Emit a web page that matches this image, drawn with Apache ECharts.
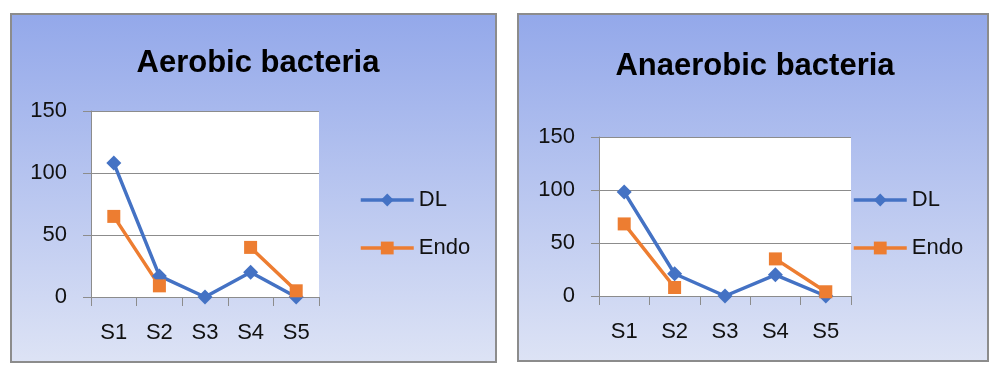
<!DOCTYPE html>
<html>
<head>
<meta charset="utf-8">
<script src="https://cdn.jsdelivr.net/npm/echarts@6/dist/echarts.min.js"></script>
<style>
    html, body { margin: 0; padding: 0; background: #fff; }
    #chart { width: 1000px; height: 377px; }
</style>
</head>
<body>
<div id="chart"></div>
<script>
'use strict';

// categories and values
var sites = ['S1', 'S2', 'S3', 'S4', 'S5'];
var aerobicDL = [108, 17, 0, 20, 0];
var aerobicEndo = [65, 9, null, 40, 5];
var anaerobicDL = [98, 21, 0, 20, 0];
var anaerobicEndo = [68, 8, null, 35, 4];
var yTicks = [0, 150, 50]; // min, max, interval

var FONT = '"Liberation Sans", Arial, sans-serif';
var BLUE = '#4472C4';
var ORANGE = '#ED7D31';

var chart = echarts.init(document.getElementById('chart'));

// panel background (gradient like the office chart style)
function panel(x, y, w, h) {
    return {
        type: 'rect',
        shape: { x: x, y: y, width: w, height: h },
        style: {
            fill: new echarts.graphic.LinearGradient(0, 0, 0, 1, [
                { offset: 0, color: '#93A8EA' },
                { offset: 1, color: '#DDE3F5' }
            ]),
            stroke: '#8C8C8C',
            lineWidth: 2
        },
        z: -10
    };
}

function xAxis(idx) {
    return {
        type: 'category',
        gridIndex: idx,
        data: sites,
        boundaryGap: true,
        axisLine: { lineStyle: { color: '#8C8C8C', width: 1 } },
        axisTick: { show: true, length: 9, interval: 0, lineStyle: { color: '#8C8C8C' } },
        axisLabel: { color: '#111', fontFamily: FONT, fontSize: 22, margin: 25, interval: 0 }
    };
}

function yAxis(idx) {
    return {
        type: 'value',
        gridIndex: idx,
        min: yTicks[0],
        max: yTicks[1],
        interval: yTicks[2],
        axisLine: { show: true, lineStyle: { color: '#8C8C8C', width: 1 } },
        axisTick: { show: true, length: 8, lineStyle: { color: '#8C8C8C' } },
        axisLabel: { color: '#111', fontFamily: FONT, fontSize: 22, margin: 24 },
        splitLine: { show: true, lineStyle: { color: '#8C8C8C', width: 1 } }
    };
}

function lineSeries(name, data, idx, color, symbol, size) {
    return {
        name: name,
        type: 'line',
        xAxisIndex: idx,
        yAxisIndex: idx,
        data: data,
        connectNulls: false,
        symbol: symbol,
        symbolSize: size,
        showAllSymbol: true,
        lineStyle: { color: color, width: 3.5 },
        itemStyle: { color: color },
        animation: false
    };
}

function legend(left, top) {
    return {
        orient: 'vertical',
        left: left,
        top: top,
        padding: 0,
        itemWidth: 53,
        itemHeight: 16,
        itemGap: 26,
        lineStyle: { width: 3.5 },
        textStyle: { fontFamily: FONT, fontSize: 22, color: '#111' },
        data: ['DL', 'Endo']
    };
}

var option = {
    backgroundColor: '#fff',
    graphic: [
        panel(11, 14, 485, 348),
        panel(518, 14, 470, 347)
    ],
    title: [
        {
            text: 'Aerobic bacteria',
            left: 253, top: 43, textAlign: 'center',
            textStyle: { fontFamily: FONT, fontSize: 31, fontWeight: 'bold', color: '#000' }
        },
        {
            text: 'Anaerobic bacteria',
            left: 750, top: 46, textAlign: 'center',
            textStyle: { fontFamily: FONT, fontSize: 31, fontWeight: 'bold', color: '#000' }
        }
    ],
    legend: [legend(359, 189), legend(852, 189)],
    grid: [
        { left: 91, top: 111, width: 228, height: 186, show: true, backgroundColor: '#fff', borderWidth: 0 },
        { left: 599, top: 137, width: 252, height: 159, show: true, backgroundColor: '#fff', borderWidth: 0 }
    ],
    xAxis: [xAxis(0), xAxis(1)],
    yAxis: [yAxis(0), yAxis(1)],
    series: [
        lineSeries('DL', aerobicDL, 0, BLUE, 'diamond', 15),
        lineSeries('Endo', aerobicEndo, 0, ORANGE, 'rect', 13),
        lineSeries('DL', anaerobicDL, 1, BLUE, 'diamond', 15),
        lineSeries('Endo', anaerobicEndo, 1, ORANGE, 'rect', 13)
    ]
};

chart.setOption(option);
</script>
</body>
</html>
